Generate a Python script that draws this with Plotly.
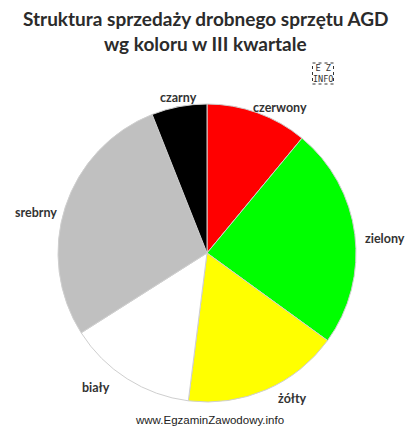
import plotly.graph_objects as go

# slices clockwise from 12 o'clock
kolory = ['czerwony', 'zielony', 'żółty', 'biały', 'srebrny', 'czarny']
udzialy = [11, 24, 17, 14, 28, 6]
barwy = ['#ff0000', '#00ff00', '#ffff00', '#ffffff', '#c0c0c0', '#000000']

tytul = ['Struktura sprzedaży drobnego sprzętu AGD', 'wg koloru w III kwartale']
STOPKA = 'www.EgzaminZawodowy.info'
ZNAK = 'E Z<br>INFO'

W, H = 418, 429

# label centres in page pixels, the pie's own outside labels land too far off
pozycje = {
    'czerwony': (280, 107),
    'zielony': (385, 238),
    'żółty': (292, 398),
    'biały': (96, 387),
    'srebrny': (36, 213),
    'czarny': (178, 97),
}


def tekst(txt, px, py, family='Lato', size=12.5, color='#333333', weight='bold'):
    return dict(text=txt, x=px / W, y=1 - py / H, xref='paper', yref='paper',
                xanchor='center', yanchor='middle', showarrow=False,
                font=dict(family=family, size=size, color=color, weight=weight))


fig = go.Figure(go.Pie(
    labels=kolory,
    values=udzialy,
    sort=False,
    direction='clockwise',
    rotation=0,
    marker=dict(colors=barwy, line=dict(color='#cfcfcf', width=1)),
    textinfo='none',
    showlegend=False,
    hoverinfo='label+percent',
    domain=dict(x=[58 / W, 356 / W], y=[27 / H, 325 / H]),
))

notki = [tekst(k, *pozycje[k]) for k in kolory]
notki.append(tekst(tytul[0], 205, 18, size=19, color='#2b2b2b'))
notki.append(tekst(tytul[1], 205, 44, size=19, color='#2b2b2b'))
notki.append(tekst(STOPKA, 209, 420, family='Liberation Sans', size=11.5,
                   color='#222222', weight='normal'))
notki.append(tekst(ZNAK, 323, 73.5, family='DejaVu Sans Mono', size=8.5,
                   color='#333333', weight='normal'))

fig.update_layout(
    width=W,
    height=H,
    margin=dict(l=0, r=0, t=0, b=0),
    paper_bgcolor='white',
    annotations=notki,
    shapes=[
        dict(type='rect', xref='paper', yref='paper',
             x0=312.5 / W, x1=333.5 / W, y0=1 - 84 / H, y1=1 - 63 / H,
             line=dict(color='#333333', width=1, dash='dot')),
    ],
)

# page margin would push the figure 8px off
fig.write_html('out.html', config={'displayModeBar': False},
               post_script="document.body.style.margin = '0';")
